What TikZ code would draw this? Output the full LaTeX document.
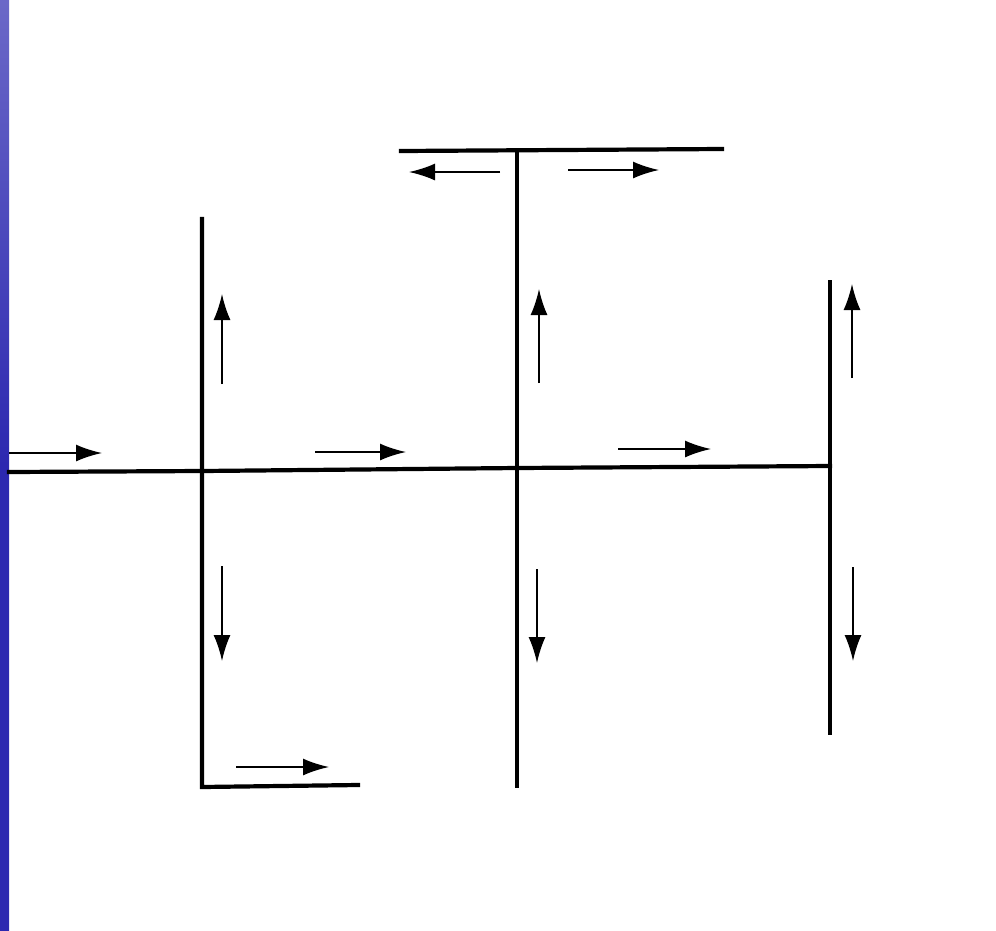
\documentclass[tikz,border=0pt]{standalone}
\usetikzlibrary{arrows.meta}
\definecolor{slideblue}{RGB}{44,40,176}

\begin{document}
\begin{tikzpicture}[
		x=1pt, y=-1pt,
		wall/.style={line width=4.2pt, line cap=rect},
		flow/.style={line width=1.8pt, -{Latex[length=26pt, width=17pt]}}
		]
		
		% =========================================================
		% 1. Frame and slide strip
		% =========================================================
		\useasboundingbox (0,0) rectangle (996,930);
		\fill[white] (0,0) rectangle (996,930);
		\shade[top color=slideblue!70, bottom color=slideblue, middle color=slideblue] (0,0) rectangle (9,930);
		
		% =========================================================
		% 2. Junction points
		% =========================================================
		\coordinate (inlet) at (9,472);
		\coordinate (J1) at (202,471);
		\coordinate (J2) at (517,468);
		\coordinate (J3) at (830,466);
		
		% =========================================================
		% 3. Channels
		% =========================================================
		\draw[wall] (inlet) -- (J1) -- (J2) -- (J3);
		\draw[wall] (202,219) -- (J1) -- (202,787) -- (358,785);
		\draw[wall] (517,786) -- (J2) -- (517,151);
		\draw[wall] (401,151) -- (722,149);
		\draw[wall] (830,282) -- (J3) -- (830,733);
		
		% =========================================================
		% 4. Flow directions
		% =========================================================
		\draw[flow] (9,453) -- (102,453);
		\draw[flow] (315,452) -- (406,452);
		\draw[flow] (618,449) -- (711,449);
		
		\draw[flow] (222,384) -- (222,294);
		\draw[flow] (222,566) -- (222,661);
		\draw[flow] (236,767) -- (329,767);
		
		\draw[flow] (539,383) -- (539,289);
		\draw[flow] (537,569) -- (537,663);
		\draw[flow] (500,172) -- (409,172);
		\draw[flow] (568,170) -- (659,170);
		
		\draw[flow] (852,378) -- (852,284);
		\draw[flow] (853,567) -- (853,661);
	\end{tikzpicture}
\end{document}
